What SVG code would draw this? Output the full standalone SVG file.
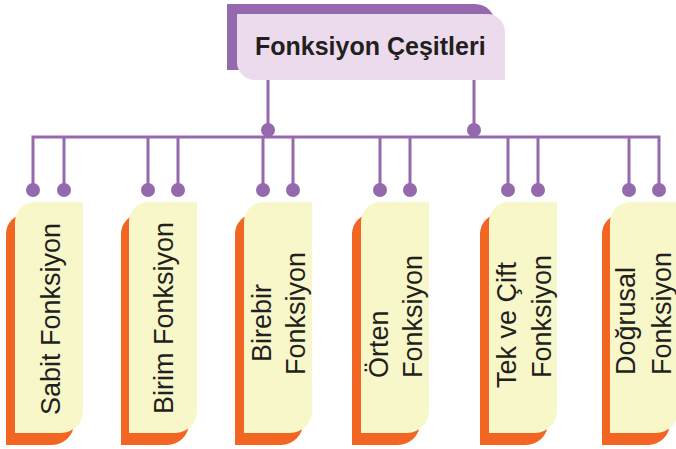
<svg xmlns="http://www.w3.org/2000/svg" xmlns:xlink="http://www.w3.org/1999/xlink" width="676" height="449" viewBox="0 0 676 449">
<style>
.ln{stroke:#9569ad;stroke-width:3;fill:none}
.dot{fill:#9569ad}
.y{fill:#f7f7c9}
.o{fill:#f26522}
.t{font-family:"Liberation Sans",Arial,sans-serif;font-size:27px;fill:#231f20}
.tt{font-family:"Liberation Sans",Arial,sans-serif;font-size:25px;font-weight:bold;fill:#231f20}
</style>
<defs>
<path id="card" d="M0,20 A20,20 0 0 1 20,0 H68 V209 A22,22 0 0 1 46,231 H0 Z"/>
</defs>
<g id="title">
<path d="M227,70 V4 H475 A20,20 0 0 1 495,24 V70 Z" fill="#9569ad"/>
<path d="M237,14 H487 A18,18 0 0 1 505,32 V80 H255 A18,18 0 0 1 237,62 Z" fill="#ecdbec"/>
<text class="tt" x="255" y="55">Fonksiyon Çeşitleri</text>
</g>
<g id="connectors">
<path class="ln" d="M268,80 V130 M474,80 V130 M33,190 V137 H659 V190 M64,137 V190 M148,137 V190 M178,137 V190 M263,137 V190 M293,137 V190 M380,137 V190 M410,137 V190 M508,137 V190 M538,137 V190 M629,137 V190"/>
<circle class="dot" cx="268" cy="130" r="7"/>
<circle class="dot" cx="474" cy="130" r="7"/>
<circle class="dot" cx="33" cy="190" r="7"/>
<circle class="dot" cx="64" cy="190" r="7"/>
<circle class="dot" cx="148" cy="190" r="7"/>
<circle class="dot" cx="178" cy="190" r="7"/>
<circle class="dot" cx="263" cy="190" r="7"/>
<circle class="dot" cx="293" cy="190" r="7"/>
<circle class="dot" cx="380" cy="190" r="7"/>
<circle class="dot" cx="410" cy="190" r="7"/>
<circle class="dot" cx="508" cy="190" r="7"/>
<circle class="dot" cx="538" cy="190" r="7"/>
<circle class="dot" cx="629" cy="190" r="7"/>
<circle class="dot" cx="659" cy="190" r="7"/>
</g>
<g id="sabit">
<use xlink:href="#card" class="o" x="6" y="214"/>
<use xlink:href="#card" class="y" x="15" y="202"/>
<text class="t" text-anchor="middle" transform="translate(60,319) rotate(-90)">Sabit Fonksiyon</text>
</g>
<g id="birim">
<use xlink:href="#card" class="o" x="121" y="214"/>
<use xlink:href="#card" class="y" x="129" y="202"/>
<text class="t" text-anchor="middle" transform="translate(173,318) rotate(-90)">Birim Fonksiyon</text>
</g>
<g id="birebir">
<use xlink:href="#card" class="o" x="235" y="214"/>
<use xlink:href="#card" class="y" x="244" y="202"/>
<text class="t" transform="translate(271,362) rotate(-90)">Birebir</text>
<text class="t" transform="translate(305,375) rotate(-90)">Fonksiyon</text>
</g>
<g id="orten">
<use xlink:href="#card" class="o" x="352" y="214"/>
<use xlink:href="#card" class="y" x="361" y="202"/>
<text class="t" transform="translate(388,378) rotate(-90)">Örten</text>
<text class="t" transform="translate(422,378) rotate(-90)">Fonksiyon</text>
</g>
<g id="tekcift">
<use xlink:href="#card" class="o" x="480" y="214"/>
<use xlink:href="#card" class="y" x="489" y="202"/>
<text class="t" transform="translate(516,388) rotate(-90)">Tek ve Çift</text>
<text class="t" transform="translate(551,378) rotate(-90)">Fonksiyon</text>
</g>
<g id="dogrusal">
<use xlink:href="#card" class="o" x="602" y="214"/>
<use xlink:href="#card" class="y" x="610" y="202"/>
<text class="t" transform="translate(635,375) rotate(-90)">Doğrusal</text>
<text class="t" transform="translate(671,375) rotate(-90)">Fonksiyon</text>
</g>
</svg>
